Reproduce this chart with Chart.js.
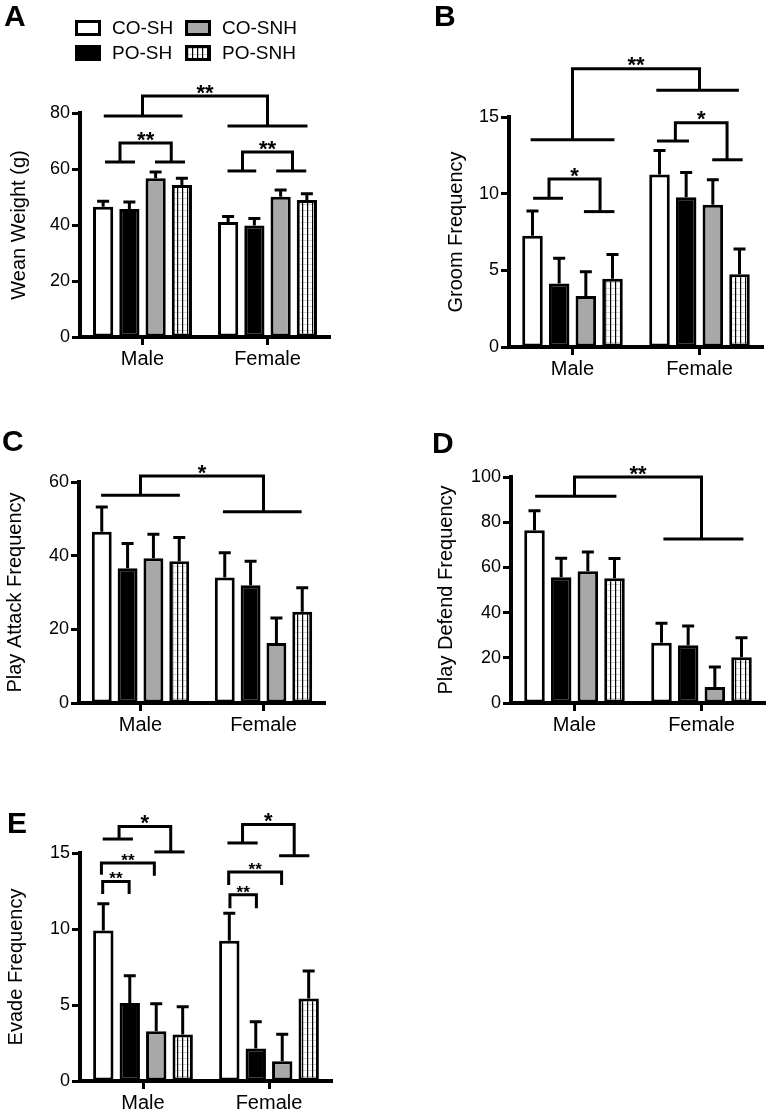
<!DOCTYPE html>
<html>
<head>
<meta charset="utf-8">
<script src="https://cdn.jsdelivr.net/npm/chart.js@4.4.0/dist/chart.umd.min.js"></script>
<style>
    body { margin: 0; background: #fff; width: 766px; height: 1113px; position: relative; overflow: hidden; font-family: 'Liberation Sans', Arial, sans-serif; }
    canvas { position: absolute; }
    .letter { position: absolute; font-weight: bold; font-size: 30px; line-height: 1; color: #000; }
</style>
</head>
<body>
<canvas id="chartA" width="383" height="380" style="left:0;top:0"></canvas>
<canvas id="chartB" width="383" height="380" style="left:383px;top:0"></canvas>
<canvas id="chartC" width="383" height="360" style="left:0;top:380px"></canvas>
<canvas id="chartD" width="383" height="360" style="left:383px;top:380px"></canvas>
<canvas id="chartE" width="383" height="373" style="left:0;top:740px"></canvas>
<div class="letter" style="left:4px;top:1px">A</div>
<div class="letter" style="left:434px;top:1px">B</div>
<div class="letter" style="left:2px;top:426px">C</div>
<div class="letter" style="left:432px;top:428px">D</div>
<div class="letter" style="left:7px;top:808px">E</div>
<script>
// categories and groups
const sexes = ['Male', 'Female']
const groups = ['CO-SH', 'PO-SH', 'CO-SNH', 'PO-SNH']

// A - wean weight (mean per group, [Male, Female])
const weanMean = [[46.5, 41.1], [45.7, 39.8], [56.7, 50.1], [54.3, 48.9]]
const weanSem = [[2.0, 1.9], [2.5, 2.5], [2.2, 2.4], [2.4, 2.3]]

// B - groom frequency
const groomMean = [[7.26, 11.25], [4.14, 9.77], [3.32, 9.27], [4.45, 4.75]]
const groomSem = [[1.61, 1.57], [1.64, 1.61], [1.58, 1.63], [1.59, 1.64]]

// C - play attack frequency
const attackMean = [[46.5, 34.1], [36.6, 32.0], [39.3, 16.3], [38.5, 24.8]]
const attackSem = [[6.7, 6.7], [6.7, 6.5], [6.5, 6.8], [6.4, 6.5]]

// D - play defend frequency
const defendMean = [[76.4, 26.7], [55.6, 25.5], [58.3, 7.1], [55.2, 20.2]]
const defendSem = [[8.7, 8.6], [8.4, 8.6], [8.5, 8.8], [8.7, 8.7]]

// E - evade frequency
const evadeMean = [[9.9, 9.22], [5.13, 2.14], [3.28, 1.3], [3.06, 5.43]]
const evadeSem = [[1.76, 1.82], [1.8, 1.76], [1.8, 1.78], [1.82, 1.81]]

// significance brackets: legs in category units (0 = Male, 1 = Female), heights in data units
const weanBrackets = [
    { legs: [0, 1], top: 86.1, ends: [78.9, 75.4], bases: [[-0.31, 0.32], [0.68, 1.32]], label: '**' },
    { legs: [-0.18, 0.23], top: 69.3, ends: [62.5, 62.5], bases: [[-0.30, -0.06], [0.10, 0.34]], label: '**' },
    { legs: [0.80, 1.20], top: 66.1, ends: [59.3, 59.3], bases: [[0.68, 0.91], [1.07, 1.31]], label: '**' }
]
const groomBrackets = [
    { legs: [0, 1], top: 18.14, ends: [13.52, 16.74], bases: [[-0.33, 0.33], [0.66, 1.31]], label: '**' },
    { legs: [-0.185, 0.217], top: 10.95, ends: [9.7, 8.83], bases: [[-0.31, -0.075], [0.09, 0.33]], label: '*' },
    { legs: [0.81, 1.217], top: 14.63, ends: [13.43, 12.21], bases: [[0.665, 0.917], [1.1, 1.34]], label: '*' }
]
const attackBrackets = [
    { legs: [0, 1], top: 61.6, ends: [56.4, 51.9], bases: [[-0.32, 0.32], [0.67, 1.31]], label: '*' }
]
const defendBrackets = [
    { legs: [0, 1], top: 100, ends: [91.5, 72.6], bases: [[-0.31, 0.33], [0.70, 1.33]], label: '**' }
]
const evadeBrackets = [
    { legs: [-0.19, 0.22], top: 16.75, ends: [15.92, 15.07], bases: [[-0.32, -0.08], [0.09, 0.33]], label: '*' },
    { legs: [-0.33, 0.09], top: 14.34, ends: [13.57, 13.5], label: '**', small: true },
    { legs: [-0.32, -0.11], top: 13.13, ends: [12.3, 12.3], label: '**', small: true },
    { legs: [0.79, 1.2], top: 16.87, ends: [15.66, 14.82], bases: [[0.67, 0.91], [1.08, 1.32]], label: '*' },
    { legs: [0.68, 1.1], top: 13.75, ends: [12.9, 12.9], label: '**', small: true },
    { legs: [0.69, 0.9], top: 12.25, ends: [11.37, 11.37], label: '**', small: true }
]

const FONT = "'Liberation Sans', Arial, sans-serif"
Chart.defaults.font.family = FONT
Chart.defaults.color = '#000'

// vertical stripes for PO-SNH
function stripes() {
    const c = document.createElement('canvas')
    c.width = 5
    c.height = 6
    const g = c.getContext('2d')
    g.fillStyle = '#fff'
    g.fillRect(0, 0, 5, 6)
    g.fillStyle = '#d0d0d0'
    g.fillRect(0, 0, 5, 1)
    g.fillStyle = '#000'
    g.fillRect(2, 0, 1.2, 6)
    return g.createPattern(c, 'repeat')
}
const fills = ['#ffffff', '#000000', '#a8a8a8', stripes()]

function errorBars(sems) {
    return {
        id: 'errorBars',
        afterDatasetsDraw(chart) {
            const ctx = chart.ctx
            const y = chart.scales.y
            ctx.save()
            ctx.strokeStyle = '#000'
            ctx.lineWidth = 3
            chart.data.datasets.forEach((ds, i) => {
                chart.getDatasetMeta(i).data.forEach((bar, j) => {
                    const yt = y.getPixelForValue(ds.data[j] + sems[i][j])
                    ctx.beginPath()
                    ctx.moveTo(bar.x, bar.y)
                    ctx.lineTo(bar.x, yt)
                    ctx.moveTo(bar.x - 6, yt)
                    ctx.lineTo(bar.x + 6, yt)
                    ctx.stroke()
                })
            })
            ctx.restore()
        }
    }
}

function brackets(items) {
    return {
        id: 'brackets',
        afterDatasetsDraw(chart) {
            const ctx = chart.ctx
            const x = chart.scales.x, y = chart.scales.y
            const x0 = x.getPixelForValue(0)
            const unit = x.getPixelForValue(1) - x0
            const px = v => x0 + v * unit
            ctx.save()
            ctx.strokeStyle = '#000'
            ctx.fillStyle = '#000'
            ctx.lineWidth = 3
            items.forEach(b => {
                const top = y.getPixelForValue(b.top)
                ctx.beginPath()
                ctx.moveTo(px(b.legs[0]), y.getPixelForValue(b.ends[0]))
                ctx.lineTo(px(b.legs[0]), top)
                ctx.lineTo(px(b.legs[1]), top)
                ctx.lineTo(px(b.legs[1]), y.getPixelForValue(b.ends[1]))
                ctx.stroke()
                if (b.bases) {
                    b.bases.forEach((r, i) => {
                        const yy = y.getPixelForValue(b.ends[i])
                        ctx.beginPath()
                        ctx.moveTo(px(r[0]), yy)
                        ctx.lineTo(px(r[1]), yy)
                        ctx.stroke()
                    })
                }
                const size = b.small ? 17 : 22
                ctx.font = `bold ${size}px ${FONT}`
                ctx.textAlign = 'center'
                ctx.textBaseline = 'alphabetic'
                ctx.fillText(b.label, (px(b.legs[0]) + px(b.legs[1])) / 2, top + 0.165 * size)
            })
            ctx.restore()
        }
    }
}

// legend drawn in panel A, two columns
const legendPlugin = {
    id: 'groupLegend',
    afterDraw(chart) {
        const ctx = chart.ctx
        const spots = [[0, 75, 20], [2, 185, 20], [1, 75, 45], [3, 185, 45]]
        ctx.save()
        spots.forEach(([i, lx, ly]) => {
            ctx.fillStyle = fills[i]
            ctx.fillRect(lx, ly, 26, 16)
            ctx.strokeStyle = '#000'
            ctx.lineWidth = 3
            ctx.strokeRect(lx + 1.5, ly + 1.5, 23, 13)
            ctx.fillStyle = '#000'
            ctx.font = `19px ${FONT}`
            ctx.textAlign = 'left'
            ctx.textBaseline = 'middle'
            ctx.fillText(groups[i], lx + 37, ly + 9)
        })
        ctx.restore()
    }
}

function panel(id, means, sems, yMax, step, title, titlePad, area, marks, extra) {
    const canvas = document.getElementById(id)
    const w = canvas.width, h = canvas.height
    const plugins = [errorBars(sems), brackets(marks)]
    if (extra) plugins.push(extra)
    return new Chart(canvas.getContext('2d'), {
        type: 'bar',
        data: {
            labels: sexes,
            datasets: groups.map((g, i) => ({
                label: g,
                data: means[i],
                backgroundColor: fills[i],
                borderColor: '#000',
                borderWidth: 3,
                borderSkipped: false,
                categoryPercentage: 0.84,
                barPercentage: 0.77
            }))
        },
        options: {
            responsive: false,
            animation: false,
            layout: { padding: { top: area.top, right: w - area.right, bottom: 0, left: 0 } },
            plugins: { legend: { display: false }, tooltip: { enabled: false } },
            scales: {
                x: {
                    grid: { display: true, drawOnChartArea: false, offset: false, tickLength: 8, tickWidth: 3, tickColor: '#000' },
                    border: { display: true, width: 4, color: '#000' },
                    ticks: { font: { size: 20 }, color: '#000', padding: 2 },
                    afterFit: s => { s.height = h - area.bottom }
                },
                y: {
                    min: 0,
                    max: yMax,
                    ticks: { stepSize: step, font: { size: 18 }, color: '#000', padding: 2 },
                    grid: { display: true, drawOnChartArea: false, tickLength: 8, tickWidth: 3, tickColor: '#000' },
                    border: { display: true, width: 4, color: '#000' },
                    title: { display: true, text: title, font: { size: 20 }, color: '#000', padding: { top: titlePad, bottom: 0 } },
                    afterFit: s => { s.width = area.left }
                }
            }
        },
        plugins: plugins
    })
}

panel('chartA', weanMean, weanSem, 80, 20, 'Wean Weight (g)', 7,
    { left: 80, top: 113, right: 330, bottom: 337 }, weanBrackets, legendPlugin)
panel('chartB', groomMean, groomSem, 15, 5, 'Groom Frequency', 61,
    { left: 126, top: 117, right: 380, bottom: 347 }, groomBrackets)
panel('chartC', attackMean, attackSem, 60, 20, 'Play Attack Frequency', 3,
    { left: 79, top: 102, right: 325, bottom: 323 }, attackBrackets)
panel('chartD', defendMean, defendSem, 100, 20, 'Play Defend Frequency', 51,
    { left: 128, top: 97, right: 382, bottom: 323 }, defendBrackets)
panel('chartE', evadeMean, evadeSem, 15, 5, 'Evade Frequency', 4,
    { left: 80, top: 113, right: 332, bottom: 341 }, evadeBrackets)
</script>
</body>
</html>
